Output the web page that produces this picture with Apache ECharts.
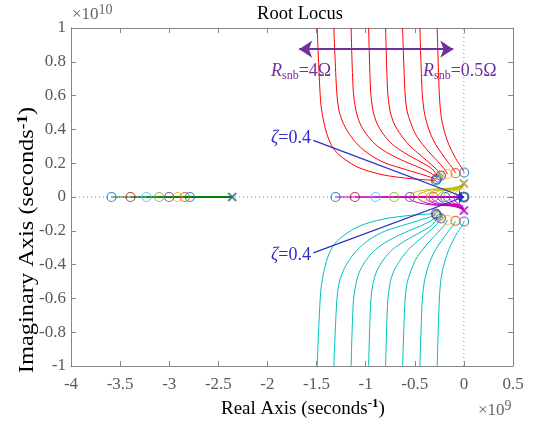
<!DOCTYPE html>
<html>
<head>
<meta charset="utf-8">
<script src="https://cdn.jsdelivr.net/npm/echarts@6/dist/echarts.min.js"></script>
<style>
  html, body { margin: 0; padding: 0; background: #ffffff; }
  #chart { width: 535px; height: 424px; }
</style>
</head>
<body>
<div id="chart"></div>
<script>
// Real axis in units of 1e9 s^-1, imaginary axis in units of 1e10 s^-1.
// Eight snubber resistances, ordered 0.5 Ω ... 4 Ω.
const rSnb = [0.5, 1, 1.5, 2, 2.5, 3, 3.5, 4];
const sysColors = ['#0072BD', '#D95319', '#EDB120', '#7E2F8E', '#77AC30', '#4DBEEE', '#A2142F', '#0072BD'];

// Upper branches: from +j infinity down to the complex zeros
const upperBranch = [
  [[-0.272, 1.0], [-0.252, 0.634], [-0.239, 0.516], [-0.219, 0.437], [-0.188, 0.368], [-0.153, 0.309], [-0.112, 0.260], [-0.066, 0.210], [-0.025, 0.176], [0.003, 0.145]],
  [[-0.448, 1.0], [-0.426, 0.634], [-0.407, 0.516], [-0.377, 0.437], [-0.336, 0.368], [-0.285, 0.309], [-0.229, 0.260], [-0.168, 0.210], [-0.117, 0.173], [-0.085, 0.141]],
  [[-0.624, 1.0], [-0.601, 0.634], [-0.581, 0.516], [-0.540, 0.437], [-0.489, 0.368], [-0.418, 0.309], [-0.346, 0.260], [-0.265, 0.210], [-0.204, 0.170], [-0.166, 0.136]],
  [[-0.797, 1.0], [-0.777, 0.634], [-0.754, 0.516], [-0.713, 0.437], [-0.642, 0.368], [-0.560, 0.309], [-0.468, 0.260], [-0.367, 0.210], [-0.285, 0.167], [-0.234, 0.127]],
  [[-0.970, 1.0], [-0.950, 0.634], [-0.927, 0.516], [-0.886, 0.437], [-0.815, 0.368], [-0.723, 0.309], [-0.601, 0.260], [-0.448, 0.210], [-0.326, 0.167], [-0.262, 0.117]],
  [[-1.148, 1.0], [-1.127, 0.634], [-1.100, 0.516], [-1.059, 0.437], [-0.988, 0.368], [-0.896, 0.309], [-0.774, 0.260], [-0.601, 0.210], [-0.448, 0.173], [-0.326, 0.137], [-0.272, 0.111]],
  [[-1.324, 1.0], [-1.296, 0.634], [-1.273, 0.516], [-1.229, 0.437], [-1.161, 0.368], [-1.079, 0.309], [-0.957, 0.250], [-0.804, 0.202], [-0.583, 0.161], [-0.380, 0.125], [-0.278, 0.105]],
  [[-1.494, 1.0], [-1.466, 0.634], [-1.449, 0.516], [-1.398, 0.378], [-1.331, 0.289], [-1.229, 0.230], [-1.059, 0.171], [-0.822, 0.131], [-0.550, 0.109], [-0.285, 0.098]]
];

// Lower branches: from -j infinity up to the conjugate zeros
const lowerBranch = [
  [[-0.272, -1.0], [-0.252, -0.634], [-0.239, -0.516], [-0.219, -0.437], [-0.188, -0.368], [-0.153, -0.309], [-0.112, -0.260], [-0.066, -0.210], [-0.025, -0.176], [0.003, -0.145]],
  [[-0.448, -1.0], [-0.426, -0.634], [-0.407, -0.516], [-0.377, -0.437], [-0.336, -0.368], [-0.285, -0.309], [-0.229, -0.260], [-0.168, -0.210], [-0.117, -0.173], [-0.085, -0.141]],
  [[-0.624, -1.0], [-0.601, -0.634], [-0.581, -0.516], [-0.540, -0.437], [-0.489, -0.368], [-0.418, -0.309], [-0.346, -0.260], [-0.265, -0.210], [-0.204, -0.170], [-0.166, -0.136]],
  [[-0.797, -1.0], [-0.777, -0.634], [-0.754, -0.516], [-0.713, -0.437], [-0.642, -0.368], [-0.560, -0.309], [-0.468, -0.260], [-0.367, -0.210], [-0.285, -0.167], [-0.234, -0.127]],
  [[-0.970, -1.0], [-0.950, -0.634], [-0.927, -0.516], [-0.886, -0.437], [-0.815, -0.368], [-0.723, -0.309], [-0.601, -0.260], [-0.448, -0.210], [-0.326, -0.167], [-0.262, -0.117]],
  [[-1.148, -1.0], [-1.127, -0.634], [-1.100, -0.516], [-1.059, -0.437], [-0.988, -0.368], [-0.896, -0.309], [-0.774, -0.260], [-0.601, -0.210], [-0.448, -0.173], [-0.326, -0.137], [-0.272, -0.111]],
  [[-1.324, -1.0], [-1.296, -0.634], [-1.273, -0.516], [-1.229, -0.437], [-1.161, -0.368], [-1.079, -0.309], [-0.957, -0.250], [-0.804, -0.202], [-0.583, -0.161], [-0.380, -0.125], [-0.278, -0.105]],
  [[-1.494, -1.0], [-1.466, -0.634], [-1.449, -0.516], [-1.398, -0.378], [-1.331, -0.289], [-1.229, -0.230], [-1.059, -0.171], [-0.822, -0.131], [-0.550, -0.109], [-0.285, -0.098]]
];

// Branches leaving the lightly damped pole pair and meeting on the real axis
const loopUpper = [
  [[0, 0.08], [-0.01, 0.059], [-0.025, 0.047], [-0.045, 0.042], [-0.07, 0.035], [-0.088, 0.021], [-0.097, 0.009], [-0.10, 0]],
  [[0, 0.08], [-0.015, 0.060], [-0.035, 0.048], [-0.07, 0.043], [-0.105, 0.036], [-0.132, 0.022], [-0.146, 0.010], [-0.15, 0]],
  [[0, 0.08], [-0.02, 0.061], [-0.045, 0.049], [-0.095, 0.044], [-0.15, 0.037], [-0.185, 0.023], [-0.205, 0.010], [-0.21, 0]],
  [[0, 0.08], [-0.025, 0.062], [-0.06, 0.050], [-0.125, 0.045], [-0.195, 0.038], [-0.24, 0.024], [-0.263, 0.011], [-0.27, 0]],
  [[0, 0.08], [-0.03, 0.063], [-0.07, 0.051], [-0.15, 0.046], [-0.24, 0.039], [-0.295, 0.025], [-0.322, 0.011], [-0.33, 0]],
  [[0, 0.08], [-0.035, 0.064], [-0.085, 0.052], [-0.18, 0.047], [-0.28, 0.040], [-0.35, 0.026], [-0.38, 0.012], [-0.39, 0]],
  [[0, 0.08], [-0.04, 0.065], [-0.10, 0.053], [-0.22, 0.048], [-0.34, 0.041], [-0.42, 0.027], [-0.458, 0.012], [-0.47, 0]],
  [[0, 0.08], [-0.04, 0.066], [-0.12, 0.054], [-0.26, 0.049], [-0.40, 0.042], [-0.50, 0.028], [-0.545, 0.013], [-0.56, 0]]
];
const loopLower = [
  [[0, -0.08], [-0.01, -0.059], [-0.025, -0.047], [-0.045, -0.042], [-0.07, -0.035], [-0.088, -0.021], [-0.097, -0.009], [-0.10, 0]],
  [[0, -0.08], [-0.015, -0.060], [-0.035, -0.048], [-0.07, -0.043], [-0.105, -0.036], [-0.132, -0.022], [-0.146, -0.010], [-0.15, 0]],
  [[0, -0.08], [-0.02, -0.061], [-0.045, -0.049], [-0.095, -0.044], [-0.15, -0.037], [-0.185, -0.023], [-0.205, -0.010], [-0.21, 0]],
  [[0, -0.08], [-0.025, -0.062], [-0.06, -0.050], [-0.125, -0.045], [-0.195, -0.038], [-0.24, -0.024], [-0.263, -0.011], [-0.27, 0]],
  [[0, -0.08], [-0.03, -0.063], [-0.07, -0.051], [-0.15, -0.046], [-0.24, -0.039], [-0.295, -0.025], [-0.322, -0.011], [-0.33, 0]],
  [[0, -0.08], [-0.035, -0.064], [-0.085, -0.052], [-0.18, -0.047], [-0.28, -0.040], [-0.35, -0.026], [-0.38, -0.012], [-0.39, 0]],
  [[0, -0.08], [-0.04, -0.065], [-0.10, -0.053], [-0.22, -0.048], [-0.34, -0.041], [-0.42, -0.027], [-0.458, -0.012], [-0.47, 0]],
  [[0, -0.08], [-0.04, -0.066], [-0.12, -0.054], [-0.26, -0.049], [-0.40, -0.042], [-0.50, -0.028], [-0.545, -0.013], [-0.56, 0]]
];

// Zeros
const complexZeros = [[0.003, 0.145], [-0.085, 0.141], [-0.166, 0.136], [-0.234, 0.127], [-0.262, 0.117], [-0.272, 0.111], [-0.278, 0.105], [-0.285, 0.098]];
const nearRealZeros = [-0.19, -0.31, -0.42, -0.55, -0.71, -0.899, -1.11, -1.307];
const farRealZeros = [-2.79, -2.841, -2.916, -3.001, -3.103, -3.231, -3.394, -3.588];
const originZero = [0, 0];

// Poles
const realPole = [-2.359, 0];
const complexPoles = [[0, 0.08], [0, -0.08]];

// Annotations
const zetaFrom = [[-1.533, 0.335], [-1.533, -0.33]];
const rSpan = [[-1.677, 0.875], [-0.108, 0.875]];

const C = { red: '#ff0000', cyan: '#00bfbf', olive: '#bfbf00', magenta: '#bf00bf', green: '#008000', zeta: '#2b2bc8', purple: '#7030a0' };
const SERIF = '"Liberation Serif", "Times New Roman", serif';
const CROSS = 'path://M0,0L10,10M10,0L0,10';

function path(data, color, z) {
  return {
    type: 'line', data: data, symbol: 'none', showSymbol: false, smooth: 0.3,
    lineStyle: { color: color, width: 1 }, silent: true, z: z || 2
  };
}

const series = [];
// reference axes through the origin
series.push({ type: 'line', data: [[-4, 0], [0.5, 0]], symbol: 'none', silent: true, z: 1,
  lineStyle: { color: '#8c8c8c', width: 1, type: [1, 3] } });
series.push({ type: 'line', data: [[0, -1], [0, 1]], symbol: 'none', silent: true, z: 1,
  lineStyle: { color: '#8c8c8c', width: 1, type: [1, 3] } });

for (let i = 0; i < rSnb.length; i++) {
  series.push(path(upperBranch[i], C.red));
  series.push(path(lowerBranch[i], C.cyan));
  series.push(path(loopUpper[i], C.olive));
  series.push(path(loopLower[i], C.magenta));
  series.push({ type: 'line', data: [[nearRealZeros[i], 0], originZero], symbol: 'none', silent: true, z: 2,
    lineStyle: { color: C.magenta, width: 1.2 } });
  series.push({ type: 'line', data: [[farRealZeros[i], 0], realPole], symbol: 'none', silent: true, z: 2,
    lineStyle: { color: C.green, width: 1.2 } });
}

// zeros, one colour per resistance
for (let i = 0; i < rSnb.length; i++) {
  const zs = [
    complexZeros[i],
    [complexZeros[i][0], -complexZeros[i][1]],
    [nearRealZeros[i], 0],
    [farRealZeros[i], 0]
  ];
  series.push({
    type: 'scatter', data: zs, symbol: 'circle', symbolSize: 9, silent: true, z: 4,
    itemStyle: { color: 'rgba(0,0,0,0)', borderColor: sysColors[i], borderWidth: 1.2 }
  });
}
series.push({
  type: 'scatter', data: [originZero], symbol: 'circle', symbolSize: 9, silent: true, z: 4,
  itemStyle: { color: 'rgba(0,0,0,0)', borderColor: '#1d4a7e', borderWidth: 2.2 }
});

// poles
series.push({ type: 'scatter', data: [realPole], symbol: CROSS, symbolSize: 8, silent: true, z: 4,
  itemStyle: { color: 'rgba(0,0,0,0)', borderColor: '#2f6f7d', borderWidth: 2 } });
series.push({ type: 'scatter', data: [complexPoles[0]], symbol: CROSS, symbolSize: 8, silent: true, z: 4,
  itemStyle: { color: 'rgba(0,0,0,0)', borderColor: '#9ea43a', borderWidth: 2 } });
series.push({ type: 'scatter', data: [complexPoles[1]], symbol: CROSS, symbolSize: 8, silent: true, z: 4,
  itemStyle: { color: 'rgba(0,0,0,0)', borderColor: '#c000c0', borderWidth: 2 } });

// damping-ratio pointers
series.push({
  type: 'lines', coordinateSystem: 'cartesian2d', silent: true, z: 5,
  data: zetaFrom.map(p => ({ coords: [p, originZero] })),
  symbol: ['none', 'arrow'], symbolSize: 7,
  lineStyle: { color: C.zeta, width: 1.3, opacity: 1 }
});
// resistance sweep arrow
series.push({
  type: 'lines', coordinateSystem: 'cartesian2d', silent: true, z: 5,
  data: [{ coords: rSpan }],
  symbol: ['arrow', 'arrow'], symbolSize: 13,
  lineStyle: { color: C.purple, width: 2, opacity: 1 }
});

const axisGray = '#858585';
function xAx(pos, labels) {
  return {
    type: 'value', position: pos, min: -4, max: 0.5, interval: 0.5,
    axisLine: { onZero: false, lineStyle: { color: axisGray, width: 1 } },
    axisTick: { inside: true, length: 5, lineStyle: { color: axisGray } },
    axisLabel: { show: labels, fontFamily: SERIF, fontSize: 17, color: '#5a5a5a', margin: 10 },
    splitLine: { show: false }
  };
}
function yAx(pos, labels) {
  return {
    type: 'value', position: pos, min: -1, max: 1, interval: 0.2,
    axisLine: { onZero: false, lineStyle: { color: axisGray, width: 1 } },
    axisTick: { inside: true, length: 5, lineStyle: { color: axisGray } },
    axisLabel: { show: labels, fontFamily: SERIF, fontSize: 17, color: '#5a5a5a', margin: 5 },
    splitLine: { show: false }
  };
}

function txt(x, y, text, rich, extra) {
  return Object.assign({
    type: 'text', x: x, y: y, silent: true, z: 10,
    style: { text: text, rich: rich, align: 'left', verticalAlign: 'middle', textAlign: 'left', textVerticalAlign: 'middle' }
  }, extra || {});
}

const purpleRich = {
  i: { fontFamily: SERIF, fontSize: 18, fontStyle: 'italic', fill: C.purple, color: C.purple, lineHeight: 22 },
  s: { fontFamily: SERIF, fontSize: 12, fill: C.purple, color: C.purple, lineHeight: 12, verticalAlign: 'bottom' },
  n: { fontFamily: SERIF, fontSize: 18, fill: C.purple, color: C.purple, lineHeight: 22 }
};
const zetaRich = {
  z: { fontFamily: SERIF, fontSize: 18, fontStyle: 'italic', fill: C.zeta, color: C.zeta, lineHeight: 22 },
  n: { fontFamily: SERIF, fontSize: 18, fill: C.zeta, color: C.zeta, lineHeight: 22 }
};
function labelRich(size) {
  return {
    a: { fontFamily: SERIF, fontSize: size, fill: '#000', color: '#000', lineHeight: 24 },
    s: { fontFamily: SERIF, fontSize: Math.round(size * 0.68), fontWeight: 'bold', fill: '#000', color: '#000', lineHeight: 14, verticalAlign: 'top' }
  };
}
const expRich = {
  a: { fontFamily: SERIF, fontSize: 17, fill: '#666', color: '#666', lineHeight: 24 },
  s: { fontFamily: SERIF, fontSize: 14, fill: '#666', color: '#666', lineHeight: 13, verticalAlign: 'top' }
};

const chart = echarts.init(document.getElementById('chart'), null, { renderer: 'canvas' });
chart.setOption({
  animation: false,
  backgroundColor: '#ffffff',
  grid: { left: 71, right: 22, top: 28, bottom: 58, containLabel: false },
  xAxis: [xAx('bottom', true), xAx('top', false)],
  yAxis: [yAx('left', true), yAx('right', false)],
  series: series,
  graphic: [
    { type: 'text', x: 300, y: 14, silent: true,
      style: { text: 'Root Locus', font: '18.5px ' + SERIF, fill: '#000', align: 'center', verticalAlign: 'middle', textAlign: 'center', textVerticalAlign: 'middle' } },
    txt(271, 71, '{i|R}{s|snb}{n|=4Ω}', purpleRich),
    txt(423, 71, '{i|R}{s|snb}{n|=0.5Ω}', purpleRich),
    txt(271, 138, '{z|ζ}{n|=0.4}', zetaRich),
    txt(271, 255, '{z|ζ}{n|=0.4}', zetaRich),
    txt(221, 409, '{a|Real Axis (seconds}{s|-1}{a|)}', labelRich(19)),
    txt(72, 15, '{a|×10}{s|10}', expRich),
    txt(478, 411, '{a|×10}{s|9}', expRich),
    {
      type: 'text', x: 28, y: 240, rotation: Math.PI / 2, scaleX: 1.22, silent: true, z: 10,
      style: { text: '{a|Imaginary Axis (seconds}{s|-1}{a|)}', rich: labelRich(20), align: 'center', verticalAlign: 'middle', textAlign: 'center', textVerticalAlign: 'middle' }
    }
  ]
});
</script>
</body>
</html>
